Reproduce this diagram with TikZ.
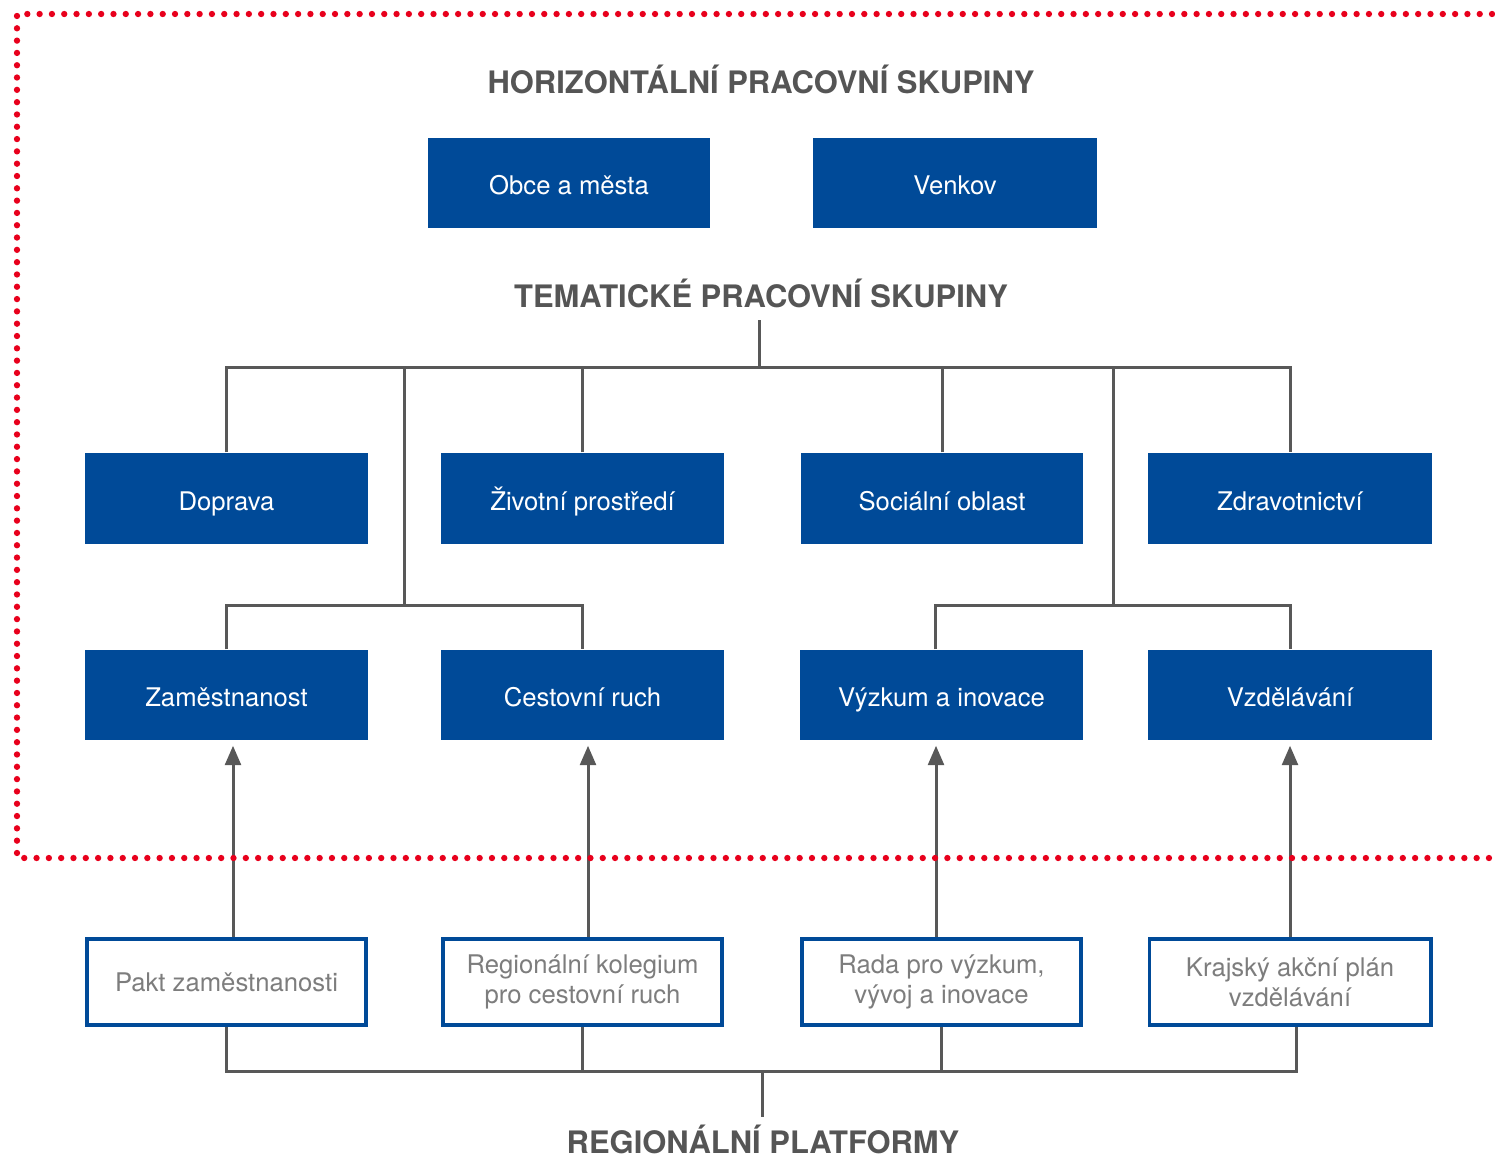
\documentclass[tikz,border=0pt]{standalone}
\usepackage{fontspec}
\setmainfont{TeX Gyre Heros}
\usetikzlibrary{arrows.meta}
\definecolor{boxblue}{RGB}{0,74,152}
\definecolor{linegray}{RGB}{88,88,88}
\definecolor{titlegray}{RGB}{85,85,85}
\definecolor{dotred}{RGB}{232,0,28}
\definecolor{textgray}{RGB}{125,125,125}
\begin{document}
\begin{tikzpicture}[x=0.01cm,y=-0.01cm,
 bluebox/.style={fill=boxblue, draw=none, minimum width=2.83cm, minimum height=0.9cm, inner sep=0pt, text=white, text height=0.72em, text depth=0.06em, font=\fontsize{7.3}{8.8}\selectfont},
 platbox/.style={draw=boxblue, line width=1.1pt, fill=white, minimum width=2.79cm, minimum height=0.86cm, inner sep=0pt, text=textgray, align=center, font=\fontsize{7.3}{8.6}\selectfont},
 grouptitle/.style={font=\bfseries\fontsize{8.8}{10}\selectfont, text=titlegray, anchor=base, inner sep=0pt},
 conn/.style={draw=linegray, line width=0.85pt},
 uparrow/.style={conn, -{Triangle[length=5.5pt,width=4.5pt]}, shorten >=0.05cm},
 reddots/.style={draw=dotred, line width=1.8pt, line cap=round, dash pattern=on 0pt off 3.5pt}
]
\useasboundingbox (0,0) rectangle (1495,1157);

% titles
\node[grouptitle] (horiz) at (761,93) {HORIZONTÁLNÍ PRACOVNÍ SKUPINY};
\node[grouptitle] (temat) at (761,307) {TEMATICKÉ PRACOVNÍ SKUPINY};
\node[grouptitle] (region) at (763,1153) {REGIONÁLNÍ PLATFORMY};

% horizontal groups
\node[bluebox, minimum width=2.82cm] (obce) at (569,183) {Obce a města};
\node[bluebox, minimum width=2.84cm] (venkov) at (955,183) {Venkov};

% thematic row 1
\node[bluebox, minimum height=0.91cm] (doprava) at (226.5,498.5) {Doprava};
\node[bluebox, minimum height=0.91cm] (zivot) at (582.5,498.5) {Životní prostředí};
\node[bluebox, minimum height=0.91cm, minimum width=2.82cm] (social) at (942,498.5) {Sociální oblast};
\node[bluebox, minimum height=0.91cm, minimum width=2.84cm] (zdrav) at (1290,498.5) {Zdravotnictví};

% thematic row 2
\node[bluebox] (zamest) at (226.5,695) {Zaměstnanost};
\node[bluebox] (cestov) at (582.5,695) {Cestovní ruch};
\node[bluebox] (vyzkum) at (941.5,695) {Výzkum a inovace};
\node[bluebox, minimum width=2.84cm] (vzdel) at (1290,695) {Vzdělávání};

% regional platforms
\node[platbox] (pakt) at (226.5,982) {Pakt zaměstnanosti};
\node[platbox] (kolegium) at (582.5,982) {Regionální kolegium\\pro cestovní ruch};
\node[platbox] (rada) at (941.5,982) {Rada pro výzkum,\\vývoj a inovace};
\node[platbox, minimum width=2.81cm] (krajsky) at (1290,982) {Krajský akční plán\\vzdělávání};

% thematic tree
\coordinate (tstem) at (759,320);
\coordinate (tbus) at (759,367);
\draw[conn] (tstem) -- (tbus);
\draw[conn] (doprava.north) |- (tbus) -| (zdrav.north);
\draw[conn] (zivot.north) -- (zivot.north |- tbus);
\draw[conn] (social.north) -- (social.north |- tbus);

\coordinate (lbranch) at (404,367);
\coordinate (lbus) at (404,605);
\draw[conn] (lbranch) -- (lbus);
\draw[conn] (zamest.north) |- (lbus) -| (cestov.north);

\coordinate (rbranch) at (1113,367);
\coordinate (rbus) at (1113,605);
\draw[conn] (rbranch) -- (rbus);
\draw[conn] ([xshift=-0.065cm]vyzkum.north) |- (rbus) -| (vzdel.north);

% arrows from platforms
\draw[uparrow] ([xshift=0.065cm]pakt.north) -- ([xshift=0.065cm]zamest.south);
\draw[uparrow] ([xshift=0.055cm]kolegium.north) -- ([xshift=0.055cm]cestov.south);
\draw[uparrow] ([xshift=-0.055cm]rada.north) -- ([xshift=-0.055cm]vyzkum.south);
\draw[uparrow] (krajsky.north) -- (vzdel.south);

% platform bus
\coordinate (pbus) at (762,1071);
\coordinate (pstem) at (762,1117);
\draw[conn] (pakt.south) |- (pbus) -| ([xshift=0.06cm]krajsky.south);
\draw[conn] (kolegium.south) -- (kolegium.south |- pbus);
\draw[conn] (rada.south) -- (rada.south |- pbus);
\draw[conn] (pbus) -- (pstem);

% red dotted frame
\draw[reddots] (1492,14) -- (17,14) -- (17,858) -- (1492,858);
\end{tikzpicture}
\end{document}
